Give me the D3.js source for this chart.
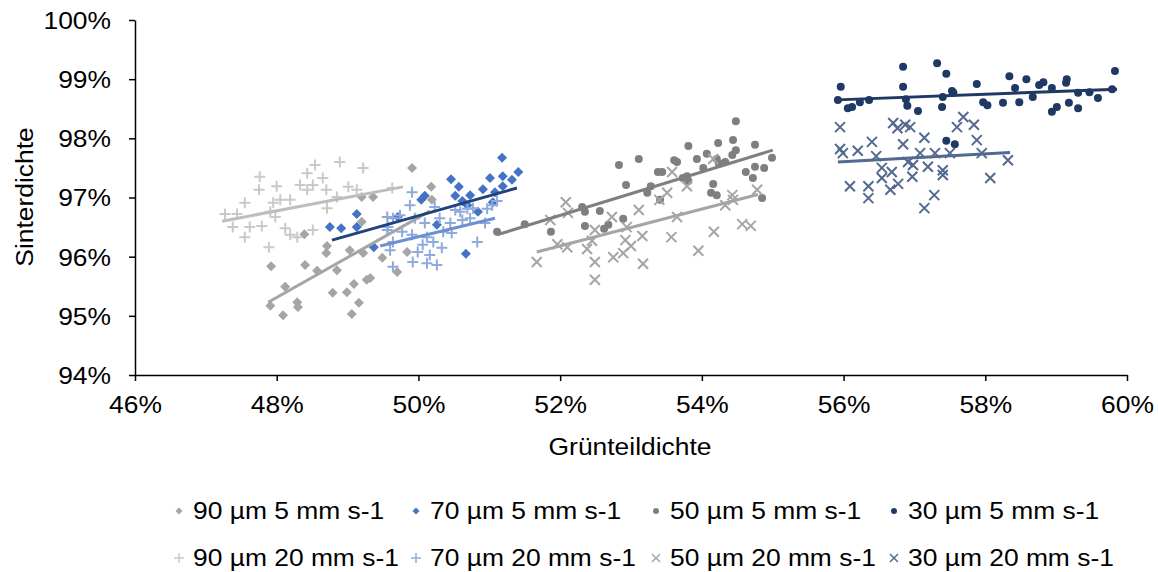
<!DOCTYPE html>
<html>
<head>
<meta charset="utf-8">
<script src="https://cdn.jsdelivr.net/npm/d3@7"></script>
<style>
  body { margin: 0; background: #fff; }
  text { font-family: "Liberation Sans", Arial, sans-serif; fill: #000; }
</style>
</head>
<body>
<svg id="chart" width="1158" height="572"></svg>
<script>
// Gründichte / Sinterdichte in %
const s90_5 = [[49.20,97.01],[49.36,97.01],[48.39,96.38],[48.71,96.18],[48.70,96.06],[49.03,96.11],[47.92,95.84],[48.40,95.86],[48.57,95.76],[48.12,95.49],[49.27,95.61],[49.09,95.54],[48.99,95.40],[48.79,95.39],[48.29,95.23],[48.30,95.15],[47.91,95.17],[48.09,95.01],[49.16,95.22],[49.06,95.03],[49.91,97.50],[50.18,97.18],[50.19,96.96],[49.22,96.06],[49.84,96.08],[49.49,95.98],[49.70,95.74],[49.32,95.64],[48.85,95.77],[49.20,96.59]];
const s70_5 = [[51.18,97.67],[51.41,97.43],[51.19,97.36],[51.01,97.33],[51.32,97.30],[50.46,97.31],[50.57,97.18],[51.19,97.19],[50.91,97.14],[51.08,97.09],[50.52,97.03],[50.73,97.04],[50.62,96.94],[50.09,97.03],[50.04,96.96],[50.26,96.54],[50.84,96.76],[50.69,96.87],[49.71,96.67],[50.67,96.05],[51.05,96.92],[48.75,96.50],[48.91,96.48],[49.13,96.72],[49.13,96.50],[49.37,96.16]];
const s50_5 = [[51.11,96.42],[51.50,96.55],[51.87,96.42],[52.31,96.84],[52.35,96.76],[52.56,96.77],[52.83,97.55],[53.11,97.65],[52.93,97.21],[52.35,96.52],[52.62,96.47],[52.68,96.54],[52.89,96.64],[53.28,97.19],[53.23,97.08],[53.38,97.43],[53.44,97.43],[53.61,97.63],[53.65,97.60],[53.41,96.96],[53.81,97.87],[53.73,97.33],[53.81,97.28],[53.93,97.65],[54.07,97.74],[54.02,97.50],[54.23,97.92],[54.21,97.65],[54.24,97.58],[54.33,97.60],[54.44,97.97],[54.48,98.29],[54.48,97.80],[54.43,97.72],[54.16,97.23],[54.13,97.08],[54.21,97.04],[54.75,97.89],[54.75,97.52],[54.88,97.50],[54.62,97.43],[54.72,97.33],[54.99,97.67],[54.85,96.99],[53.79,97.36]];
const s30_5 = [[55.96,98.87],[55.92,98.65],[56.06,98.51],[56.12,98.53],[56.23,98.61],[56.36,98.65],[56.84,99.21],[56.84,98.87],[56.88,98.66],[56.90,98.55],[57.05,98.46],[57.32,99.27],[57.45,99.09],[57.40,98.70],[57.39,98.53],[57.53,98.80],[57.55,98.77],[57.88,98.92],[57.97,98.61],[58.03,98.56],[58.25,98.60],[58.34,99.05],[58.42,98.85],[58.48,98.61],[58.58,99.00],[58.67,98.70],[58.76,98.90],[58.82,98.95],[58.94,98.85],[58.94,98.45],[59.01,98.53],[59.14,98.94],[59.15,99.00],[59.18,98.60],[59.31,98.77],[59.31,98.51],[59.47,98.78],[59.59,98.68],[59.79,98.83],[59.83,99.14],[57.45,97.96],[57.57,97.90]];
const s90_20 = [[48.89,97.60],[49.22,97.50],[48.54,97.55],[48.43,97.41],[47.76,97.35],[48.00,97.19],[47.75,97.13],[48.33,97.21],[48.43,97.13],[48.51,97.21],[48.65,97.33],[48.70,97.13],[49.01,97.18],[49.13,97.13],[48.85,97.01],[47.55,96.91],[47.95,96.91],[48.05,96.96],[48.19,96.96],[48.71,96.82],[47.27,96.72],[47.44,96.72],[47.98,96.67],[47.91,96.76],[47.38,96.50],[47.62,96.50],[47.79,96.52],[47.55,96.33],[48.12,96.48],[48.19,96.37],[48.29,96.33],[48.51,96.45],[47.89,96.16],[49.63,97.16]];
const s70_20 = [[49.91,97.09],[49.88,96.87],[50.23,96.84],[50.52,96.79],[50.59,96.76],[50.69,96.81],[50.77,96.82],[50.97,96.81],[51.04,96.87],[51.11,96.94],[49.56,96.67],[49.64,96.65],[49.74,96.70],[49.95,96.65],[50.09,96.57],[50.30,96.65],[50.45,96.57],[50.62,96.62],[50.73,96.65],[50.94,96.57],[49.57,96.50],[49.77,96.42],[49.91,96.37],[50.12,96.33],[50.35,96.42],[50.47,96.40],[50.83,96.25],[49.64,96.25],[50.06,96.20],[50.21,96.25],[50.33,96.15],[49.60,96.11],[49.99,96.08],[50.16,96.03],[49.92,95.91],[50.12,95.89],[50.26,95.86],[49.64,95.83],[49.56,96.45]];
const s50_20 = [[51.67,95.91],[51.96,96.21],[52.08,96.92],[52.10,96.16],[51.86,96.62],[52.49,95.61],[52.49,95.91],[52.38,96.13],[52.45,96.27],[52.49,96.45],[52.73,96.67],[52.75,95.99],[52.89,96.06],[52.92,96.28],[52.94,96.50],[53.00,96.18],[53.11,96.79],[53.16,96.35],[53.17,95.88],[53.57,96.33],[53.58,97.43],[53.51,97.08],[53.40,96.96],[53.65,96.67],[53.79,97.19],[53.95,96.10],[54.16,97.65],[54.17,96.42],[54.33,96.87],[54.43,97.04],[54.44,96.96],[54.57,96.55],[54.69,96.52],[54.78,97.13],[52.11,96.74]];
const s30_20 = [[55.95,98.19],[55.95,97.82],[55.99,97.75],[56.20,97.79],[56.40,97.94],[56.46,97.70],[56.70,98.26],[56.76,98.17],[56.87,98.23],[56.94,98.19],[56.84,97.90],[57.14,98.01],[57.69,98.36],[57.60,98.19],[57.84,98.23],[57.88,97.97],[57.29,97.75],[57.08,97.75],[57.50,97.75],[57.95,97.75],[58.32,97.63],[56.54,97.50],[56.68,97.43],[56.91,97.60],[56.98,97.55],[57.19,97.52],[57.40,97.46],[57.40,97.38],[56.54,97.33],[56.97,97.35],[56.09,97.19],[56.35,97.19],[56.77,97.23],[56.66,97.13],[58.07,97.33],[56.35,96.99],[57.28,97.04],[57.14,96.82]];

// lineare Trendlinien (Anfang, Ende)
const t90_5 = [[47.88,95.23],[50.16,96.77]];
const t70_5 = [[48.78,96.28],[51.39,97.16]];
const t50_5 = [[51.11,96.37],[55.00,97.80]];
const t30_5 = [[55.91,98.65],[59.86,98.83]];
const t90_20 = [[47.23,96.60],[49.78,97.18]];
const t70_20 = [[49.46,96.18],[51.08,96.65]];
const t50_20 = [[51.67,96.08],[54.79,97.05]];
const t30_20 = [[55.92,97.60],[58.35,97.76]];

const names = ["90 µm 5 mm s-1","70 µm 5 mm s-1","50 µm 5 mm s-1","30 µm 5 mm s-1",
               "90 µm 20 mm s-1","70 µm 20 mm s-1","50 µm 20 mm s-1","30 µm 20 mm s-1"];
const xTicks = [46, 48, 50, 52, 54, 56, 58, 60];
const yTicks = [94, 95, 96, 97, 98, 99, 100];

const series = [
  {pts: s90_5,  trend: t90_5,  sym: "diamond", color: "#a5a5a5", line: "#a5a5a5"},
  {pts: s70_5,  trend: t70_5,  sym: "diamond", color: "#4472c4", line: "#22427c"},
  {pts: s50_5,  trend: t50_5,  sym: "circle",  color: "#7f7f7f", line: "#7f7f7f"},
  {pts: s30_5,  trend: t30_5,  sym: "circle",  color: "#203864", line: "#203864"},
  {pts: s90_20, trend: t90_20, sym: "plus",    color: "#c9c9c9", line: "#bdbdbd"},
  {pts: s70_20, trend: t70_20, sym: "plus",    color: "#8faadc", line: "#6d90d4"},
  {pts: s50_20, trend: t50_20, sym: "times",   color: "#a5a5a5", line: "#a5a5a5"},
  {pts: s30_20, trend: t30_20, sym: "times",   color: "#53698f", line: "#53698f"}
];

const margin = {top: 20, right: 31, bottom: 197, left: 135};
const width = 1158 - margin.left - margin.right;
const height = 572 - margin.top - margin.bottom;
const stretch = 1.1; // Schrift im Original etwas breiter

const svg = d3.select("#chart");
const g = svg.append("g").attr("transform", `translate(${margin.left},${margin.top})`);

const x = d3.scaleLinear().domain([46, 60]).range([0, width]);
const y = d3.scaleLinear().domain([94, 100]).range([height, 0]);

let marker = (sym, r) => {
  if (sym === "diamond") return `M0,${-r}L${r},0L0,${r}L${-r},0Z`;
  if (sym === "circle") return d3.symbol(d3.symbolCircle, Math.PI * r * r)();
  if (sym === "plus") return `M${-r},0H${r}M0,${-r}V${r}`;
  return `M${-r},${-r}L${r},${r}M${-r},${r}L${r},${-r}`;
};
let styleMarker = (sel, s) => {
  if (s.sym === "plus" || s.sym === "times") {
    sel.attr("fill", "none").attr("stroke", s.color).attr("stroke-width", 2);
  } else {
    sel.attr("fill", s.color).attr("stroke", "none");
  }
};
const sizes = {diamond: 5, circle: 4, plus: 5.5, times: 5};

// stretched text placed at (px, py)
let label = (parent, px, py, str, anchor, rot) => {
  const t = parent.append("g").attr("transform", `translate(${px},${py})` + (rot ? ` rotate(${rot})` : ""))
    .append("text").attr("transform", `scale(${stretch},1)`)
    .attr("text-anchor", anchor || "start").attr("font-size", 24).text(str);
  return t;
};

// axes
const xAxis = g.append("g").attr("transform", `translate(0,${height})`)
  .call(d3.axisBottom(x).tickValues(xTicks).tickSize(6).tickSizeOuter(0).tickFormat(d => d + "%"));
const yAxis = g.append("g")
  .call(d3.axisLeft(y).tickValues(yTicks).tickSize(6).tickSizeOuter(0).tickFormat(d => d + "%"));
[xAxis, yAxis].forEach(a => {
  a.selectAll("path, line").attr("stroke", "#000").attr("stroke-width", 1.5);
  a.selectAll("text").attr("font-size", 24).attr("font-family", "Liberation Sans, Arial, sans-serif")
    .attr("fill", "#000").attr("transform", `scale(${stretch},1)`);
});
xAxis.selectAll("text").attr("dy", "1.2em");
yAxis.selectAll("text").attr("x", -24 / stretch).attr("dy", "0.35em");

// points
series.forEach(s => {
  const m = g.append("g").selectAll("path").data(s.pts).enter().append("path")
    .attr("d", marker(s.sym, sizes[s.sym]))
    .attr("transform", d => `translate(${x(d[0])},${y(d[1])})`);
  styleMarker(m, s);
});

// trend lines
series.forEach(s => {
  g.append("path")
    .attr("d", d3.line().x(d => x(d[0])).y(d => y(d[1]))(s.trend))
    .attr("fill", "none").attr("stroke", s.line).attr("stroke-width", 3);
});

// axis titles
label(svg, margin.left + width / 2 - 1, 455, "Grünteildichte", "middle");
label(svg, 33, 197, "Sinterdichte", "middle", -90);

// legend
const colX = [193, 430, 670, 908];
const rowY = [511, 558];
const legendSizes = {diamond: 3.5, circle: 3, plus: 5, times: 4};
series.forEach((s, i) => {
  const cx = colX[i % 4], cy = rowY[Math.floor(i / 4)];
  const lg = svg.append("g");
  const m = lg.append("path").attr("d", marker(s.sym, legendSizes[s.sym]))
    .attr("transform", `translate(${cx - 14},${cy})`);
  styleMarker(m, s);
  m.attr("stroke-width", 1.5);
  label(lg, cx, cy + 8, names[i]);
});
</script>
</body>
</html>
